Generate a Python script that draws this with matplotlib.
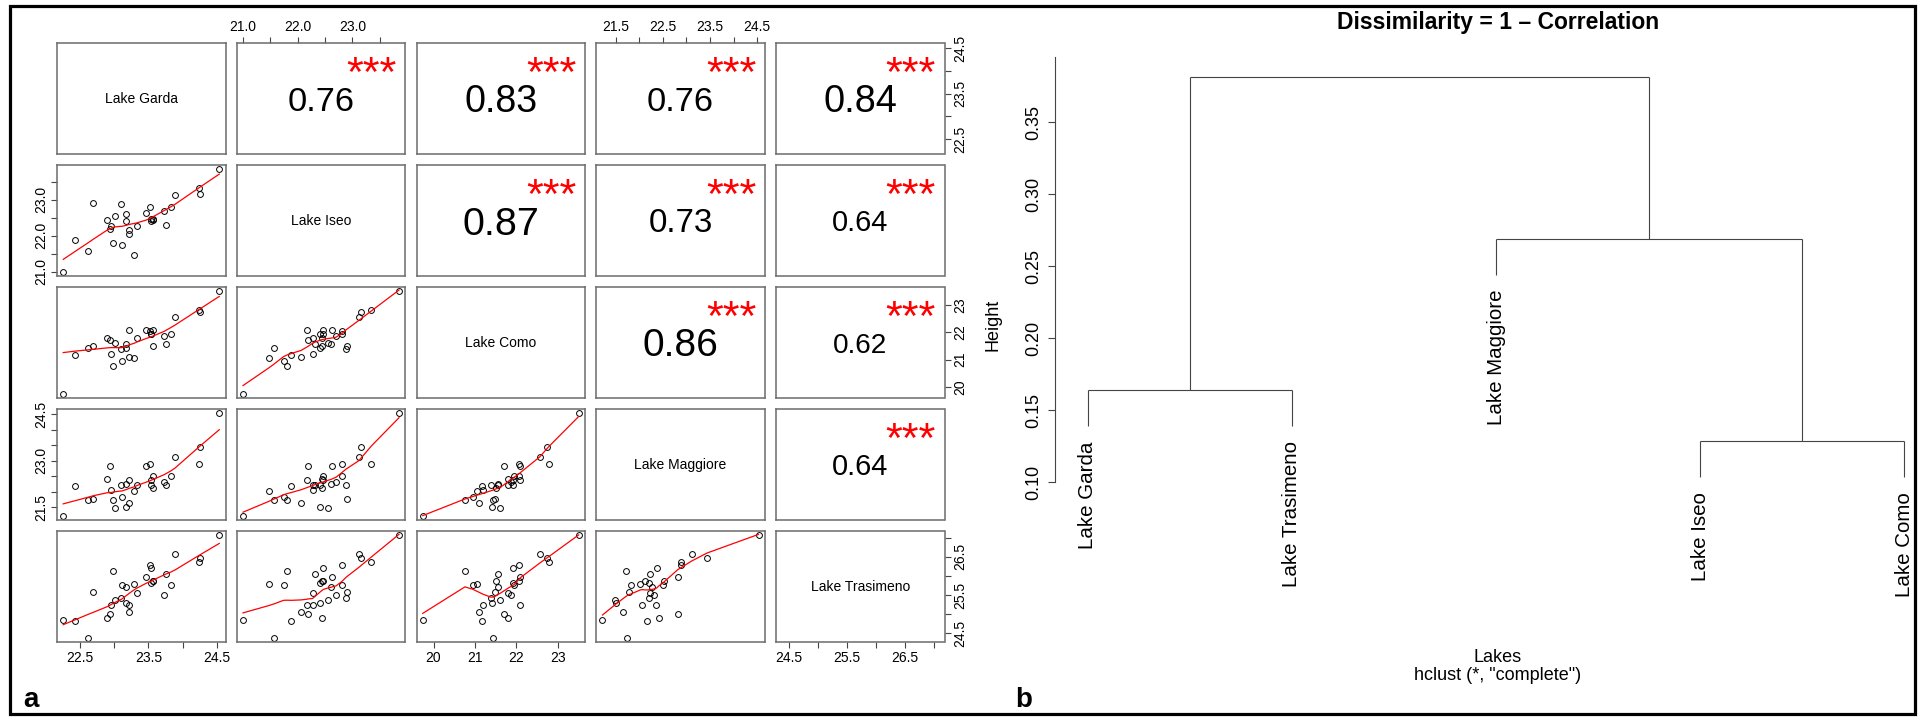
import numpy as np
import matplotlib
matplotlib.use("Agg")
import matplotlib.pyplot as plt
from matplotlib.transforms import ScaledTranslation
from matplotlib.patches import Rectangle

plt.rcParams["font.family"] = ["Liberation Sans", "DejaVu Sans"]

# ---------------------------------------------------------------- data
lakes = ["Lake Garda", "Lake Iseo", "Lake Como", "Lake Maggiore", "Lake Trasimeno"]

garda = [22.26, 22.43, 22.62, 22.70, 22.90, 22.94, 22.96, 22.99, 23.01, 23.10,
         23.11, 23.18, 23.18, 23.22, 23.22, 23.29, 23.33, 23.47, 23.52, 23.53,
         23.54, 23.56, 23.57, 23.73, 23.75, 23.83, 23.89, 24.24, 24.25, 24.53]
iseo = [21.00, 21.88, 21.57, 22.90, 22.44, 22.18, 22.27, 21.80, 22.56, 22.88,
        21.74, 22.60, 22.40, 22.17, 22.06, 21.48, 22.27, 22.62, 22.81, 22.47,
        22.40, 22.45, 22.47, 22.70, 22.31, 22.81, 23.12, 23.34, 23.15, 23.85]
como = [19.74, 21.17, 21.43, 21.49, 21.79, 21.70, 21.19, 20.76, 21.60, 21.38,
        20.95, 21.56, 21.41, 22.09, 21.11, 21.04, 21.79, 22.09, 22.06, 21.92,
        21.93, 21.50, 22.07, 21.87, 21.57, 21.95, 22.57, 22.80, 22.75, 23.51]
maggiore = [21.22, 22.17, 21.74, 21.78, 22.42, 22.82, 22.06, 21.72, 21.49, 22.20,
            21.82, 22.26, 21.51, 22.36, 21.65, 22.02, 22.22, 22.82, 22.88, 22.37,
            22.21, 22.13, 22.52, 22.32, 22.23, 22.50, 23.11, 22.88, 23.44, 24.53]
trasimeno = [24.84, 24.83, 24.38, 25.58, 24.89, 25.01, 25.24, 26.13, 25.36, 25.42,
             25.77, 25.71, 25.30, 25.24, 25.05, 25.80, 25.55, 25.97, 26.30, 26.22,
             25.82, 25.86, 25.88, 25.50, 26.06, 25.76, 26.58, 26.37, 26.48, 27.07]

# Pearson correlations between the lakes (same order as `lakes`)
corr = [[1.000, 0.760, 0.830, 0.760, 0.836],
        [0.760, 1.000, 0.8715, 0.731, 0.640],
        [0.830, 0.8715, 1.000, 0.860, 0.619],
        [0.760, 0.731, 0.860, 1.000, 0.640],
        [0.836, 0.640, 0.619, 0.640, 1.000]]
signif = "***"

# axis ticks for every lake
ticks = [[22.5, 23.0, 23.5, 24.0, 24.5],
         [21.0, 21.5, 22.0, 22.5, 23.0, 23.5],
         [20, 21, 22, 23],
         [21.5, 22.0, 22.5, 23.0, 23.5, 24.0, 24.5],
         [24.5, 25.0, 25.5, 26.0, 26.5, 27.0]]
tick_labels_x = [["22.5", "", "23.5", "", "24.5"],
                 ["21.0", "", "22.0", "", "23.0", ""],
                 ["20", "21", "22", "23"],
                 ["21.5", "", "22.5", "", "23.5", "", "24.5"],
                 ["24.5", "", "25.5", "", "26.5", ""]]
tick_labels_y = [["22.5", "", "23.5", "", "24.5"],
                 ["21.0", "", "22.0", "", "23.0", ""],
                 ["20", "21", "22", "23"],
                 ["21.5", "", "", "23.0", "", "", "24.5"],
                 ["24.5", "", "25.5", "", "26.5", ""]]

height_ticks = [0.10, 0.15, 0.20, 0.25, 0.30, 0.35]

series = [np.array(v, float) for v in (garda, iseo, como, maggiore, trasimeno)]


# ---------------------------------------------------------------- helpers
def lowess(x, y, f=2 / 3, nsteps=3):
    """Robust locally weighted regression (same algorithm as R's lowess)."""
    x = np.asarray(x, float)
    y = np.asarray(y, float)
    o = np.argsort(x, kind="mergesort")
    x, y = x[o], y[o]
    n = len(x)
    delta = 0.01 * (x[-1] - x[0])
    ns = max(min(int(f * n + 1e-7), n), 2)
    ys = np.zeros(n)
    rw = np.ones(n)
    w = np.zeros(n)
    rng = x[-1] - x[0]

    def lowest(xs, nleft, nright, userw):
        h = max(xs - x[nleft], x[nright] - xs)
        h9, h1 = 0.999 * h, 0.001 * h
        a = 0.0
        j = nleft
        while j < n:
            w[j] = 0.0
            r = abs(x[j] - xs)
            if r <= h9:
                w[j] = 1.0 if r <= h1 else (1 - (r / h) ** 3) ** 3
                if userw:
                    w[j] *= rw[j]
                a += w[j]
            elif x[j] > xs:
                break
            j += 1
        nrt = j - 1
        if a <= 0:
            return None
        sl = slice(nleft, nrt + 1)
        w[sl] /= a
        if h > 0:
            a = np.sum(w[sl] * x[sl])
            b = xs - a
            c = np.sum(w[sl] * (x[sl] - a) ** 2)
            if np.sqrt(c) > 0.001 * rng:
                b /= c
                w[sl] *= b * (x[sl] - a) + 1
        return np.sum(w[sl] * y[sl])

    it = 1
    while it <= nsteps + 1:
        nleft, nright, last, i = 0, ns - 1, -1, 0
        while True:
            if nright < n - 1:
                if x[i] - x[nleft] > x[nright + 1] - x[i]:
                    nleft += 1
                    nright += 1
                    continue
            v = lowest(x[i], nleft, nright, it > 1)
            ys[i] = y[i] if v is None else v
            if last < i - 1:
                denom = x[i] - x[last]
                for j in range(last + 1, i):
                    alpha = (x[j] - x[last]) / denom
                    ys[j] = alpha * ys[i] + (1 - alpha) * ys[last]
            last = i
            cut = x[last] + delta
            i = last + 1
            while i < n:
                if x[i] > cut:
                    break
                if x[i] == x[last]:
                    ys[i] = ys[last]
                    last = i
                i += 1
            i = max(last + 1, i - 1)
            if last >= n - 1:
                break
        res = y - ys
        sc = np.mean(np.abs(res))
        if it > nsteps:
            break
        ar = np.sort(np.abs(res))
        m1 = n // 2
        cmad = 3 * (ar[m1 - 1] + ar[m1]) if n % 2 == 0 else 6 * ar[m1]
        if cmad < 1e-7 * sc:
            break
        r = np.abs(res)
        rw = np.where(r <= 0.001 * cmad, 1.0,
                      np.where(r <= 0.999 * cmad, (1 - (r / cmad) ** 2) ** 2, 0.0))
        it += 1
    return x, ys


def complete_linkage(d):
    members = {-(i + 1): [i] for i in range(len(d))}
    merges = []
    step = 0
    while len(members) > 1:
        keys = list(members)
        best = None
        for a in range(len(keys)):
            for b in range(a + 1, len(keys)):
                h = max(d[i][j] for i in members[keys[a]] for j in members[keys[b]])
                if best is None or h < best[0] - 1e-12:
                    best = (h, keys[a], keys[b])
        h, ka, kb = best
        left, right = sorted([ka, kb], key=lambda k: (k > 0, abs(k)))
        step += 1
        merges.append((left, right, h))
        members[step] = members.pop(ka) + members.pop(kb)
    return merges


def padded(v):
    lo, hi = v.min(), v.max()
    r = hi - lo
    return lo - 0.04 * r, hi + 0.04 * r


# ---------------------------------------------------------------- figure
W, H = 1926, 717
fig = plt.figure(figsize=(W / 100, H / 100), dpi=100)


def add_ax(left, top, width, height):
    return fig.add_axes([left / W, 1 - (top + height) / H, width / W, height / H])


def centred_text(ax, x, y, s, size, vfrac, **kw):
    tr = ax.transAxes + ScaledTranslation(0, -vfrac * size / 72, fig.dpi_scale_trans)
    ax.text(x, y, s, transform=tr, fontsize=size, ha="center", va="baseline", **kw)


# ------------------------------------------------- (a) scatter-plot matrix
n_var = len(lakes)
col_left = [57 + 179.75 * j for j in range(n_var)]
row_top = [43 + 122 * i for i in range(n_var)]
cell_w, cell_h = 168.5, 111

tick_style = dict(direction="out", length=4.5, width=0.8, color="#444444",
                  labelsize=10, labelcolor="black", pad=2.0)

for i in range(n_var):
    for j in range(n_var):
        ax = add_ax(col_left[j], row_top[i], cell_w, cell_h)
        ax.set_xlim(*padded(series[j]))
        ax.set_ylim(*padded(series[i]))
        for sp in ax.spines.values():
            sp.set_color("#6b6b6b")
            sp.set_linewidth(1.1)
        ax.set_xticks([])
        ax.set_yticks([])

        if i == j:
            centred_text(ax, 0.5, 0.5, lakes[i], 10, 0.358)
        elif i < j:
            r = corr[i][j]
            size = 32.6 * abs(r)
            centred_text(ax, 0.5, 0.5, f"{r:.2f}", size, 0.358)
            centred_text(ax, 0.8, 0.8, signif, 31, 0.48, color="red")
        else:
            ax.plot(series[j], series[i], "o", mfc="none", mec="black", ms=4.2, mew=0.7)
            lx, ly = lowess(series[j], series[i])
            ax.plot(lx, ly, color="red", lw=0.9)

        # outer axes, alternating sides as in a pairs plot
        if i == 0 and j % 2 == 1:
            ax.set_xticks(ticks[j])
            ax.set_xticklabels(tick_labels_x[j])
            ax.tick_params(axis="x", top=True, bottom=False, labeltop=True,
                           labelbottom=False, **tick_style)
        if i == n_var - 1 and j % 2 == 0:
            ax.set_xticks(ticks[j])
            ax.set_xticklabels(tick_labels_x[j])
            ax.tick_params(axis="x", bottom=True, labelbottom=True, **tick_style)
        if j == 0 and i % 2 == 1:
            ax.set_yticks(ticks[i])
            ax.set_yticklabels(tick_labels_y[i], rotation=90, va="center")
            ax.tick_params(axis="y", left=True, labelleft=True, **tick_style)
        if j == n_var - 1 and i % 2 == 0:
            ax.set_yticks(ticks[i])
            ax.set_yticklabels(tick_labels_y[i], rotation=90, va="center")
            ax.tick_params(axis="y", right=True, left=False, labelright=True,
                           labelleft=False, **tick_style)

# ------------------------------------------------- (b) dendrogram
dist = [[1 - c for c in row] for row in corr]
merges = complete_linkage(dist)
heights = [m[2] for m in merges]
hang = 0.1 * (max(heights) - min(heights))


def leaves(k):
    if k < 0:
        return [-k - 1]
    a, b, _ = merges[k - 1]
    return leaves(a) + leaves(b)


order = leaves(len(merges))
leaf_x = {leaf: pos + 1 for pos, leaf in enumerate(order)}


def px_to_h(p):
    # vertical pixel position -> height value of the dendrogram axis
    return 0.10 + (482 - p) / 1440


d_top, d_bot = 57, 600
axd = add_ax(1055, d_top, 1937 - 1055, d_bot - d_top)
axd.set_xlim(0.84, 5.16)
axd.set_ylim(px_to_h(d_bot), px_to_h(d_top))
for side in ("top", "right", "bottom"):
    axd.spines[side].set_visible(False)
axd.spines["left"].set_bounds(height_ticks[0], px_to_h(d_top))
axd.spines["left"].set_color("#444444")
axd.spines["left"].set_linewidth(0.8)
axd.set_xticks([])
axd.set_yticks(height_ticks)
axd.set_yticklabels([f"{t:.2f}" for t in height_ticks], rotation=90, va="center")
axd.tick_params(axis="y", direction="out", length=5, width=0.8, color="#444444",
                labelsize=13, pad=4)
axd.patch.set_visible(False)

line_kw = dict(color="#444444", lw=0.8, clip_on=False, solid_capstyle="butt")
node_pos = {}
for step, (a, b, h) in enumerate(merges, start=1):
    xs = []
    for child in (a, b):
        if child < 0:
            cx = leaf_x[-child - 1]
            cy = h - hang
            axd.text(cx, cy - 0.0104, lakes[-child - 1], rotation=90, ha="center",
                     va="top", fontsize=14.8, clip_on=False)
        else:
            cx, cy = node_pos[child]
        axd.plot([cx, cx], [cy, h], **line_kw)
        xs.append(cx)
    axd.plot(xs, [h, h], **line_kw)
    node_pos[step] = ((xs[0] + xs[1]) / 2, h)

fig.text(1498 / W, 1 - 23 / H, "Dissimilarity = 1 \u2013 Correlation", ha="center",
         va="center", fontsize=16.5, fontweight="bold")
fig.text(1498 / W, 1 - 658 / H, "Lakes", ha="center", va="center", fontsize=13)
fig.text(1498 / W, 1 - 675 / H, 'hclust (*, "complete")', ha="center", va="center",
         fontsize=13)
fig.text(993 / W, 1 - 325 / H, "Height", rotation=90, ha="center", va="center",
         fontsize=13)

# ------------------------------------------------- panel letters and frame
fig.text(23 / W, 1 - 707 / H, "a", fontsize=20, fontweight="bold", ha="left",
         va="baseline")
fig.text(1015 / W, 1 - 707 / H, "b", fontsize=20, fontweight="bold", ha="left",
         va="baseline")
fig.patches.append(Rectangle((10 / W, 1 - 714 / H), (1915 - 10) / W, (714 - 6) / H,
                             transform=fig.transFigure, fill=False, lw=2.3,
                             edgecolor="black"))

fig.savefig("out.png", dpi=100)
